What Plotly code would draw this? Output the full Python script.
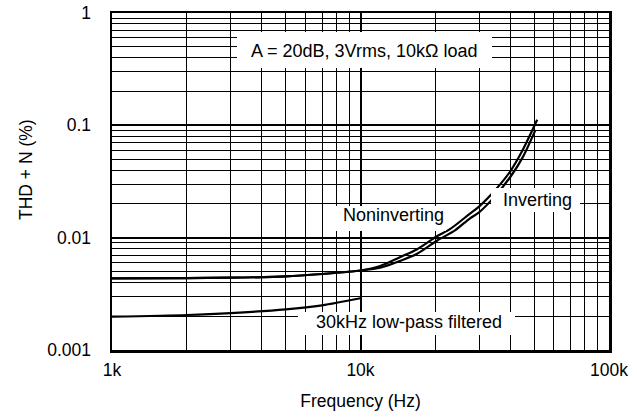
import plotly.graph_objects as go

# Data
freq_upper = [1000, 2000, 3000, 5000, 7000, 10000, 12000, 14400, 16900, 20300, 22900, 27500, 30000, 35000, 40000, 45000, 51400]
thd_upper = [0.00435, 0.00437, 0.0044, 0.00452, 0.00475, 0.0051, 0.0056, 0.0067, 0.0079, 0.0103, 0.0119, 0.0163, 0.0189, 0.0268, 0.0388, 0.0606, 0.112]
freq_lower = [1000, 2000, 3000, 5000, 7000, 10000, 12000, 14400, 16900, 20300, 24000, 27500, 30000, 35000, 40000, 45000, 50600]
thd_lower = [0.00435, 0.00437, 0.0044, 0.00452, 0.00475, 0.0051, 0.0054, 0.0062, 0.0072, 0.0094, 0.0116, 0.0148, 0.0168, 0.0238, 0.0345, 0.0521, 0.091]

freq_filt = [1000, 2000, 3000, 5000, 7000, 10000]
thd_filt = [0.00198, 0.00205, 0.00213, 0.0023, 0.0025, 0.00289]

x_major = [1000, 10000, 100000]
x_major_text = ["1k", "10k", "100k"]
y_major = [0.001, 0.01, 0.1, 1]
y_major_text = ["0.001", "0.01", "0.1", "1"]
x_minor = [m * d for d in (1000, 10000) for m in range(2, 10)]
y_minor = [m * d for d in (0.001, 0.01, 0.1) for m in range(2, 10)]

FONT = "Arial, Liberation Sans, sans-serif"

# plot area in pixels (for placing labels)
L, R, T, B = 112, 609, 13, 350
W, H = R - L, B - T
def px(x):
    return (x - L) / W
def py(y):
    return (B - y) / H

fig = go.Figure()
for xs, ys in ((freq_upper, thd_upper), (freq_lower, thd_lower), (freq_filt, thd_filt)):
    fig.add_trace(go.Scatter(x=xs, y=ys, mode="lines",
                             line=dict(color="black", width=2.2, shape="spline", smoothing=0.8),
                             showlegend=False, hoverinfo="skip"))

axis_common = dict(type="log", showline=True, mirror=True, linecolor="black", linewidth=2.5,
                   showgrid=True, gridcolor="black", gridwidth=2, ticks="", zeroline=False,
                   automargin=False,
                   tickfont=dict(family=FONT, size=17.5, color="black"))

fig.update_xaxes(range=[3, 5], tickmode="array", tickvals=x_major, ticktext=x_major_text,
                 ticklabelstandoff=2,
                 minor=dict(tickmode="array", tickvals=x_minor, showgrid=True, gridcolor="black", gridwidth=1, ticks=""),
                 title=dict(text="Frequency (Hz)", font=dict(family=FONT, size=17.5, color="black"), standoff=16),
                 **axis_common)
fig.update_yaxes(range=[-3, 0], tickmode="array", tickvals=y_major, ticktext=y_major_text,
                 ticklabelstandoff=15,
                 minor=dict(tickmode="array", tickvals=y_minor, showgrid=True, gridcolor="black", gridwidth=1, ticks=""),
                 **axis_common)

def label(text, box, center):
    x0, x1, y0, y1 = box
    fig.add_annotation(x=px((x0 + x1) / 2), y=py((y0 + y1) / 2), xref="paper", yref="paper", text=" ",
                       showarrow=False, xanchor="center", yanchor="middle", bgcolor="white",
                       width=x1 - x0, height=y1 - y0, borderpad=0, borderwidth=0,
                       font=dict(family=FONT, size=10, color="white"))
    fig.add_annotation(x=px(center[0]), y=py(center[1]), xref="paper", yref="paper", text=text,
                       showarrow=False, xanchor="center", yanchor="middle",
                       font=dict(family=FONT, size=18, color="black"))

label("A = 20dB, 3Vrms, 10kΩ load", (237, 492, 32, 68), (363.5, 51))
label("Noninverting", (330, 446, 206, 231), (393, 215))
label("Inverting", (491, 580, 188, 212), (537.5, 200))
label("30kHz low-pass filtered", (298, 515, 312, 335), (409, 322))

fig.add_annotation(x=px(26), y=py(170), xref="paper", yref="paper", text="THD + N (%)", textangle=-90,
                   showarrow=False, xanchor="center", yanchor="middle",
                   font=dict(family=FONT, size=17.5, color="black"))

fig.update_layout(width=637, height=418, margin=dict(l=L, r=637 - R, t=T, b=418 - B, autoexpand=False),
                  paper_bgcolor="white", plot_bgcolor="white")

fig.write_html("out.html", config={"displayModeBar": False, "staticPlot": True},
               post_script="document.body.style.margin='0';document.body.style.overflow='hidden';")
